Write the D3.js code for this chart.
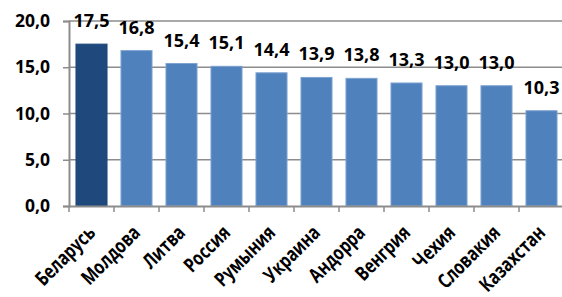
<!DOCTYPE html>
<html>
  <head>
    <meta charset="UTF-8" />
    <style>
      body { margin: 0; background: #fff; }
      text { font-family: "Open Sans", sans-serif; font-weight: bold; fill: #000; }
    </style>
  </head>
  <body>
    <svg width="562" height="297"></svg>
    <script src="https://d3js.org/d3.v7.min.js"></script>
    <script>
      // данные
      const countries = ["Беларусь", "Молдова", "Литва", "Россия", "Румыния", "Украина",
        "Андорра", "Венгрия", "Чехия", "Словакия", "Казахстан"];
      const values = [17.5, 16.8, 15.4, 15.1, 14.4, 13.9, 13.8, 13.3, 13.0, 13.0, 10.3];
      const yTicks = [0, 5, 10, 15, 20];

      const svg = d3.select("svg");
      const plotLeft = 69, plotRight = 564, plotTop = 21, plotBottom = 206;

      const x = d3.scaleBand().domain(countries).range([plotLeft, plotRight])
        .paddingInner(0.31).paddingOuter(0.155);
      const y = d3.scaleLinear().domain([0, 20]).range([plotBottom, plotTop]);
      const fmt = (v) => v.toFixed(1).replace(".", ",");

      // сетка
      svg.append("g").selectAll("line").data(yTicks.slice(1)).join("line")
        .attr("x1", plotLeft).attr("x2", plotRight)
        .attr("y1", (d) => y(d)).attr("y2", (d) => y(d))
        .attr("stroke", "#8c8c8c").attr("stroke-width", 1.5);

      // столбцы
      svg.append("g").selectAll("rect").data(values).join("rect")
        .attr("x", (d, i) => x(countries[i]))
        .attr("y", (d) => y(d))
        .attr("width", x.bandwidth())
        .attr("height", (d) => plotBottom - y(d))
        .attr("fill", (d, i) => (i === 0 ? "#1f487c" : "#4f81bd"))
        .attr("stroke", (d, i) => (i === 0 ? "#1f487c" : "#7ea3d2"))
        .attr("stroke-width", 1);

      // ось Y
      const yAxis = svg.append("g").attr("transform", `translate(${plotLeft},0)`)
        .call(d3.axisLeft(y).tickValues(yTicks).tickSize(6).tickPadding(13).tickFormat(fmt));
      yAxis.select(".domain").attr("stroke", "#8c8c8c").attr("stroke-width", 2);
      yAxis.selectAll(".tick line").attr("stroke", "#8c8c8c").attr("stroke-width", 1.5);
      yAxis.selectAll("text").attr("font-size", 17.5).attr("font-family", null)
        .attr("fill", "#000");

      // ось X
      const xAxis = svg.append("g").attr("transform", `translate(0,${plotBottom})`)
        .call(d3.axisBottom(x).tickSize(0).tickFormat(""));
      xAxis.select(".domain").attr("stroke", "#8c8c8c").attr("stroke-width", 2);
      svg.append("g").selectAll("line").data(countries).join("line")
        .attr("x1", (d) => x(d) - x.step() * x.paddingInner() / 2)
        .attr("x2", (d) => x(d) - x.step() * x.paddingInner() / 2)
        .attr("y1", plotBottom).attr("y2", plotBottom + 6)
        .attr("stroke", "#8c8c8c").attr("stroke-width", 1.5);

      // подписи категорий (сжаты по ширине, как Calibri)
      svg.append("g").selectAll("text").data(countries).join("text")
        .attr("text-anchor", "end")
        .attr("font-size", 20)
        .attr("transform", (d) => `translate(${x(d) + x.bandwidth() / 2 + 5},${plotBottom + 28}) rotate(-45) scale(0.78,1)`)
        .text((d) => d);

      // подписи значений
      svg.append("g").selectAll("text").data(values).join("text")
        .attr("x", (d, i) => x(countries[i]) + x.bandwidth() / 2)
        .attr("y", (d) => y(d) - 17)
        .attr("text-anchor", "middle")
        .attr("font-size", 18)
        .text(fmt);
    </script>
  </body>
</html>
